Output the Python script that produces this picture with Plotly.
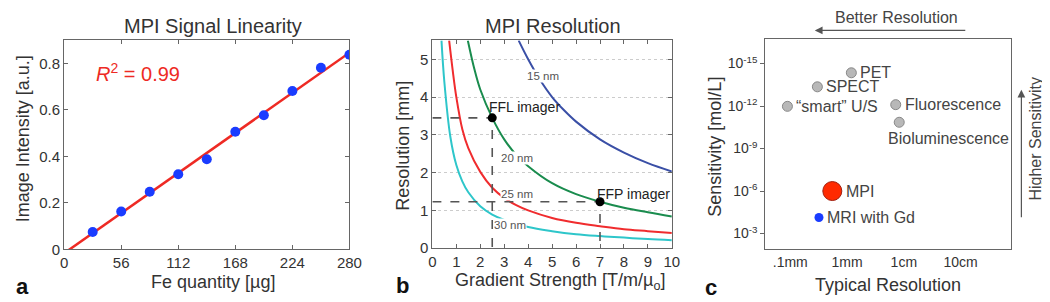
import numpy as np
import plotly.graph_objects as go

# ---------------- data ----------------
# Panel a: MPI signal linearity
fe_ug = [28, 56, 84, 112, 140, 168, 196, 224, 252, 280]
intensity = [0.075, 0.163, 0.248, 0.323, 0.388, 0.506, 0.577, 0.681, 0.781, 0.837]
fe_ticks = [0, 56, 112, 168, 224, 280]

# Panel b: MPI resolution vs gradient strength (curves)
g_15nm = [3.6, 4.0, 4.5, 5.0, 5.5, 6.0, 7.0, 8.0, 9.0, 10.0]
res_15nm = [5.5, 5.0, 4.45, 4.0, 3.65, 3.35, 2.88, 2.53, 2.25, 2.03]
g_20nm = [1.48, 1.75, 2.0, 2.5, 3.0, 3.5, 4.0, 5.0, 6.0, 7.0, 8.0, 9.0, 10.0]
res_20nm = [5.5, 4.75, 4.2, 3.45, 2.88, 2.47, 2.17, 1.72, 1.43, 1.23, 1.07, 0.95, 0.84]
g_25nm = [0.7, 0.85, 1.0, 1.25, 1.5, 2.0, 2.5, 3.0, 3.5, 4.0, 5.0, 6.0, 7.0, 8.0, 9.0, 10.0]
res_25nm = [5.5, 4.7, 4.0, 3.15, 2.65, 2.02, 1.6, 1.33, 1.14, 1.0, 0.8, 0.67, 0.58, 0.5, 0.45, 0.40]
g_30nm = [0.38, 0.5, 0.75, 1.0, 1.25, 1.5, 2.0, 2.5, 3.0, 4.0, 5.0, 6.0, 7.0, 8.0, 9.0, 10.0]
res_30nm = [5.5, 4.4, 2.95, 2.2, 1.77, 1.48, 1.11, 0.89, 0.75, 0.56, 0.45, 0.37, 0.32, 0.28, 0.24, 0.21]
curve_labels = ["15 nm", "20 nm", "25 nm", "30 nm"]
curve_label_g = [4.63, 3.52, 3.52, 3.26]
curve_label_res = [4.55, 2.38, 1.43, 0.61]
imager_names = ["FFL imager", "FFP imager"]
imager_g = [2.5, 7.0]
imager_res = [3.45, 1.23]

# Panel c: sensitivity vs typical resolution
modalities = ["PET", "SPECT", "\u201csmart\u201d U/S", "Fluorescence", "Bioluminescence", "MPI", "MRI with Gd"]
mod_res_mm = [1.19, 0.30, 0.089, 7.2, 8.3, 0.55, 0.32]
mod_sens = [4.5e-15, 4.4e-14, 1.05e-12, 8.0e-13, 1.4e-11, 1.0e-6, 7.4e-5]
res_ticks = [0.1, 1, 10, 100]
res_ticktext = [".1mm", "1mm", "1cm", "10cm"]
sens_ticks = [1e-15, 1e-12, 1e-9, 1e-6, 1e-3]
sens_ticktext = ["10<sup>-15</sup>", "10<sup>-12</sup>", "10<sup>-9</sup>", "10<sup>-6</sup>", "10<sup>-3</sup>"]

# ---------------- figure ----------------
W, H = 1050, 302
FONT = "Liberation Sans, Arial, sans-serif"
TXT = "#333333"
AX = "#666666"


def px(x):
    return x / W


def py(y):
    return 1 - y / H


fig = go.Figure()

# Panel a
slope, intercept = np.polyfit(fe_ug, intensity, 1)
fit_x = np.array([0, fe_ticks[-1]])
fig.add_trace(go.Scatter(x=fit_x, y=slope * fit_x + intercept, mode="lines",
                         line=dict(color="#ee2a24", width=2.5), xaxis="x", yaxis="y"))
fig.add_trace(go.Scatter(x=fe_ug, y=intensity, mode="markers",
                         marker=dict(color="#1a3cff", size=10), xaxis="x", yaxis="y"))

# Panel b curves
for gx, ry, col in [(g_15nm, res_15nm, "#3a4fa6"), (g_20nm, res_20nm, "#1a8c4e"),
                    (g_25nm, res_25nm, "#f02c2e"), (g_30nm, res_30nm, "#2ec6ca")]:
    fig.add_trace(go.Scatter(x=gx, y=ry, mode="lines", line=dict(color=col, width=2, shape="spline"),
                             xaxis="x2", yaxis="y2"))
for gi, ri in zip(imager_g, imager_res):
    fig.add_trace(go.Scatter(x=[0, gi, gi], y=[ri, ri, 0], mode="lines",
                             line=dict(color="#555555", width=1.6, dash="dash"),
                             xaxis="x2", yaxis="y2"))
fig.add_trace(go.Scatter(x=imager_g, y=imager_res, mode="markers",
                         marker=dict(color="black", size=9), xaxis="x2", yaxis="y2"))

# Panel c markers
gray_idx = [0, 1, 2, 3, 4]
fig.add_trace(go.Scatter(x=[mod_res_mm[i] for i in gray_idx], y=[mod_sens[i] for i in gray_idx],
                         mode="markers",
                         marker=dict(color="#b8b8b8", size=10, line=dict(color="#888888", width=1)),
                         xaxis="x3", yaxis="y3"))
fig.add_trace(go.Scatter(x=[mod_res_mm[5]], y=[mod_sens[5]], mode="markers",
                         marker=dict(color="#ff2a00", size=19, line=dict(color="#a02010", width=1)),
                         xaxis="x3", yaxis="y3"))
fig.add_trace(go.Scatter(x=[mod_res_mm[6]], y=[mod_sens[6]], mode="markers",
                         marker=dict(color="#1a3cff", size=9),
                         xaxis="x3", yaxis="y3"))

common_ax = dict(showline=True, linecolor=AX, linewidth=1, mirror=True, showgrid=False,
                 zeroline=False, tickfont=dict(family=FONT, size=15, color=TXT),
                 tickcolor=AX, fixedrange=True)

fig.update_layout(
    width=W, height=H, autosize=False,
    margin=dict(l=0, r=0, t=0, b=0),
    paper_bgcolor="white", plot_bgcolor="white",
    showlegend=False,
    font=dict(family=FONT, color=TXT),
    xaxis=dict(domain=[px(53), px(343)], anchor="y", range=[0, 280], tickvals=fe_ticks,
               ticks="inside", ticklen=4, **{**common_ax, "mirror": "ticks"}),
    yaxis=dict(domain=[py(248), py(33)], anchor="x", range=[0, 0.9],
               tickvals=[0, 0.2, 0.4, 0.6, 0.8], ticktext=["0", "0.2", "0.4", "0.6", "0.8"],
               ticks="inside", ticklen=4, **{**common_ax, "mirror": "ticks"}),
    xaxis2=dict(domain=[px(427.3), px(670.7)], anchor="y2", range=[0, 10], dtick=1, tick0=0,
                ticks="inside", ticklen=4, **{**common_ax, "mirror": "ticks"}),
    yaxis2=dict(domain=[py(246.7), py(33.3)], anchor="x2", range=[0, 5.5], dtick=1, tick0=0,
                ticks="inside", ticklen=4,
                **{**common_ax, "mirror": "ticks", "showgrid": True},
                gridcolor="#cccccc", griddash="dot", gridwidth=1),
    xaxis3=dict(domain=[px(765.7), px(1015)], anchor="y3", type="log", range=[-1.44, 2.88],
                tickvals=res_ticks, ticktext=res_ticktext, ticks="",
                **{**common_ax, "tickfont": dict(family=FONT, size=14, color=TXT)}),
    yaxis3=dict(domain=[py(247.7), py(32.3)], anchor="x3", type="log", range=[-1.9, -16.7],
                tickvals=sens_ticks, ticktext=sens_ticktext, ticks="outside", ticklen=4,
                **{**common_ax, "tickfont": dict(family=FONT, size=14, color=TXT)}),
)

ann = []


def text(x, y, s, size, color=TXT, angle=0, xanchor="center", yanchor="middle", bold=False):
    if bold:
        s = "<b>" + s + "</b>"
    ann.append(dict(x=px(x), y=py(y), xref="paper", yref="paper", text=s, showarrow=False,
                    font=dict(family=FONT, size=size, color=color), textangle=angle,
                    xanchor=xanchor, yanchor=yanchor, borderpad=0))


# Titles
text(204, 19, "MPI Signal Linearity", 20)
text(550, 19, "MPI Resolution", 20)
# Axis titles
text(12, 134, "Image Intensity [a.u.]", 18, angle=-90)
text(204, 281, "Fe quantity [\u00b5g]", 18)
text(398, 142, "Resolution [mm]", 18, angle=-90)
text(557, 281, "Gradient Strength [T/m/\u00b5<sub>o</sub>]", 18)
text(715, 142, "Sensitivity [mol/L]", 18, angle=-90)
text(890, 285, "Typical Resolution", 18)
# Panel letters
text(11, 300, "a", 22, color="#111111", bold=True, yanchor="bottom")
text(397, 299, "b", 22, color="#111111", bold=True, yanchor="bottom")
text(711, 301, "c", 22, color="#111111", bold=True, yanchor="bottom")
# R^2
ann.append(dict(x=29, y=0.76, xref="x", yref="y", text="<i>R</i><sup>2</sup> = 0.99", showarrow=False,
                font=dict(family=FONT, size=20, color="#ee2a24"), xanchor="left", yanchor="middle"))

# Panel b labels
for lab, gx, ry in zip(curve_labels, curve_label_g, curve_label_res):
    ann.append(dict(x=gx, y=ry, xref="x2", yref="y2", text=lab, showarrow=False,
                    font=dict(family=FONT, size=11.5, color="#555555"), bgcolor="white",
                    borderpad=0, xanchor="center", yanchor="middle"))
ann.append(dict(x=imager_g[0], y=imager_res[0], xref="x2", yref="y2", text=imager_names[0],
                showarrow=False, font=dict(family=FONT, size=14, color="#222222"),
                xanchor="left", yanchor="middle", xshift=-5, yshift=11))
ann.append(dict(x=imager_g[1], y=imager_res[1], xref="x2", yref="y2", text=imager_names[1],
                showarrow=False, font=dict(family=FONT, size=14, color="#222222"),
                xanchor="left", yanchor="middle", xshift=-5, yshift=8))

# Panel c labels
lx = np.log10(mod_res_mm)
ly = np.log10(mod_sens)
shifts = [(8, 0), (8, 0), (8, 0), (8, 0), (-12, -16), (13, 0), (7, 0)]
for name, xv, yv, (dx, dy) in zip(modalities, lx, ly, shifts):
    ann.append(dict(x=xv, y=yv, xref="x3", yref="y3", text=name, showarrow=False,
                    font=dict(family=FONT, size=16, color="#444444"), borderpad=0,
                    xanchor="left", yanchor="middle", xshift=dx, yshift=dy))

# Arrows panel c
text(899, 10, "Better Resolution", 16, color="#444444")
ann.append(dict(x=px(816), y=py(23), xref="paper", yref="paper", ax=152, ay=0,
                axref="pixel", ayref="pixel", text="", showarrow=True, arrowhead=2,
                arrowsize=1.3, arrowwidth=1.2, arrowcolor="#555555"))
text(1040, 134, "Higher Sensitivity", 16, color="#444444", angle=-90)
ann.append(dict(x=px(1026), y=py(84), xref="paper", yref="paper", ax=0, ay=129,
                axref="pixel", ayref="pixel", text="", showarrow=True, arrowhead=2,
                arrowsize=1.3, arrowwidth=1.2, arrowcolor="#555555"))

fig.update_layout(annotations=ann)
fig.write_html("out.html")
